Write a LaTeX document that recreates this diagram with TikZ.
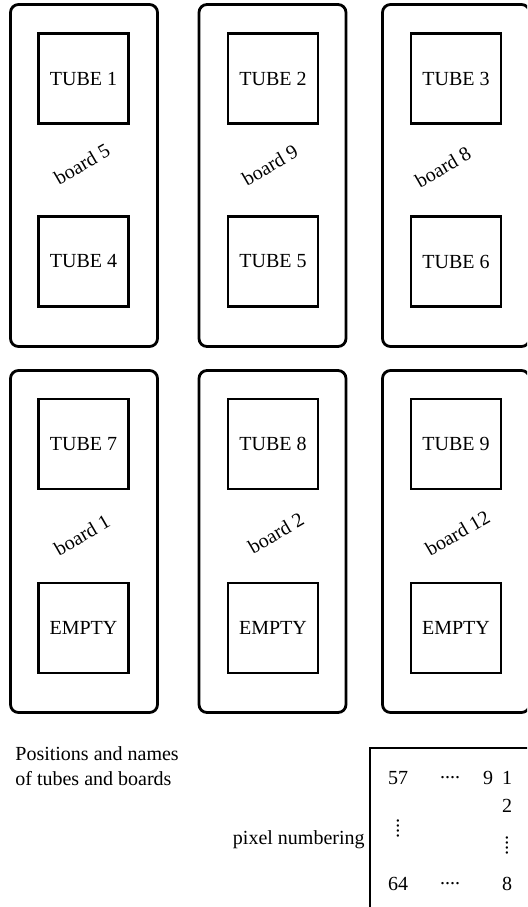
\documentclass[tikz,border=0pt]{standalone}
\usepackage{fontspec}
\setmainfont{Liberation Serif}

\newcommand{\hdots}{\raisebox{0.29em}{....}}

\begin{document}
\begin{tikzpicture}[x=0.5pt,y=-0.5pt,
    every node/.style={font=\rmfamily\fontsize{10}{12.5}\selectfont},
    board/.style={draw, line width=1.4pt, rounded corners=4pt,
        minimum width=73.5pt, minimum height=171pt, inner sep=0pt},
    tube/.style={draw, line width=1.4pt, minimum size=45pt, inner sep=0pt},
    boardname/.style={rotate=30, inner sep=0pt},
    pixnum/.style={inner sep=1pt, anchor=base}]
    \useasboundingbox (0,0) rectangle (527,907);
    \clip (0,0) rectangle (527,907);

    % Upper row of boards
    \node[board] (b5) at (84,175.5) {};
    \node[board] (b9) at (272.5,175.5) {};
    \node[board] (b8) at (456,175.5) {};
    \node[tube] (t1) at (83.5,78.5) {TUBE 1};
    \node[tube] (t4) at (83.5,261.5) {TUBE 4};
    \node[tube] (t2) at (273,78.5) {TUBE 2};
    \node[tube] (t5) at (273,261.5) {TUBE 5};
    \node[tube] (t3) at (456,78.5) {TUBE 3};
    \node[tube] (t6) at (456,261.5) {TUBE 6};
    \node[boardname] (n5) at (82,164) {board 5};
    \node[boardname] (n9) at (270,165) {board 9};
    \node[boardname] (n8) at (443,167) {board 8};

    % Lower row of boards
    \node[board] (b1) at (84,541.5) {};
    \node[board] (b2) at (272.5,541.5) {};
    \node[board] (b12) at (456,541.5) {};
    \node[tube] (t7) at (83.5,444) {TUBE 7};
    \node[tube] (e1) at (83.5,628) {EMPTY};
    \node[tube] (t8) at (273,444) {TUBE 8};
    \node[tube] (e2) at (273,628) {EMPTY};
    \node[tube] (t9) at (456,444) {TUBE 9};
    \node[tube] (e3) at (456,628) {EMPTY};
    \node[boardname] (n1) at (82,535) {board 1};
    \node[boardname] (n2) at (276,533) {board 2};
    \node[boardname] (n12) at (457.5,533) {board 12};

    % Caption
    \node[anchor=west, align=left, inner sep=0pt] (caption) at (15,766)
        {Positions and names\\of tubes and boards};

    % Pixel numbering sketch
    \draw[line width=1.4pt] (370,910) |- (530,748);
    \node[anchor=east, inner sep=1pt] (pixlabel) at (367,840) {pixel numbering};
    \node[pixnum] (p57) at (398,784) {57};
    \node[pixnum] (d1) at (450,784) {\hdots};
    \node[pixnum] (p9) at (488,784) {9};
    \node[pixnum] (p1) at (507,784) {1};
    \node[pixnum] (p2) at (507,812) {2};
    \node[inner sep=1pt, rotate=90] (v1) at (398,828) {....};
    \node[inner sep=1pt, rotate=90] (v2) at (507,845) {....};
    \node[pixnum] (p64) at (398,890) {64};
    \node[pixnum] (d2) at (450,890) {\hdots};
    \node[pixnum] (p8) at (507,890) {8};
\end{tikzpicture}
\end{document}
